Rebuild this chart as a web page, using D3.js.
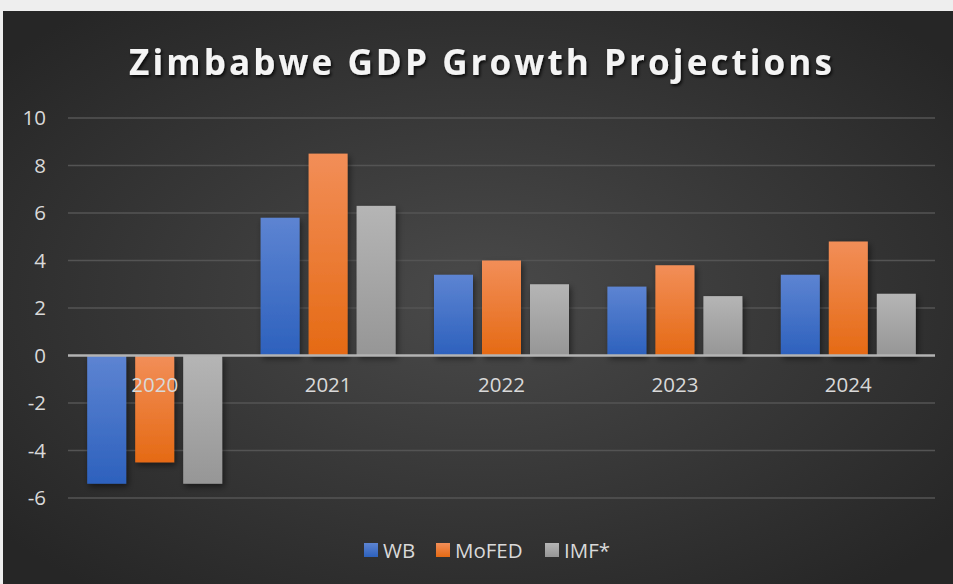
<!DOCTYPE html>
<html>
<head>
<meta charset="utf-8">
<script src="https://cdn.jsdelivr.net/npm/d3@7"></script>
<style>
  html, body { margin: 0; padding: 0; background: #eeeeee; }
  svg { display: block; }
</style>
</head>
<body>
<div id="chart"></div>
<script>
const years = ["2020", "2021", "2022", "2023", "2024"];
const series = ["WB", "MoFED", "IMF*"];
const wb = [-5.4, 5.8, 3.4, 2.9, 3.4];
const mofed = [-4.5, 8.5, 4.0, 3.8, 4.8];
const imf = [-5.4, 6.3, 3.0, 2.5, 2.6];
const yTicks = [-6, -4, -2, 0, 2, 4, 6, 8, 10];

const W = 953, H = 584;
const frame = {x: 3, y: 11};
const margin = {left: 68, right: 18, top: 118, bottom: 86};
const font = "Open Sans, sans-serif";
const labelSize = 20.5;

const svg = d3.select("#chart").append("svg")
  .attr("width", W).attr("height", H);

const defs = svg.append("defs");
const bg = defs.append("radialGradient").attr("id", "bg")
  .attr("cx", "50%").attr("cy", "50%").attr("r", "65%");
bg.append("stop").attr("offset", "0%").attr("stop-color", "#4a4a4a");
bg.append("stop").attr("offset", "100%").attr("stop-color", "#262626");

const grads = [
  ["#5d84d2", "#2d61bd"],
  ["#f28e58", "#e56a14"],
  ["#b5b5b5", "#969696"]
];
grads.forEach((g, i) => {
  const lg = defs.append("linearGradient").attr("id", "g" + i)
    .attr("x1", 0).attr("y1", 0).attr("x2", 0).attr("y2", 1);
  lg.append("stop").attr("offset", "0%").attr("stop-color", g[0]);
  lg.append("stop").attr("offset", "100%").attr("stop-color", g[1]);
});

const sh = defs.append("filter").attr("id", "shadow")
  .attr("x", "-30%").attr("y", "-10%").attr("width", "160%").attr("height", "130%");
sh.append("feDropShadow").attr("dx", 2).attr("dy", 3).attr("stdDeviation", 3)
  .attr("flood-color", "#000").attr("flood-opacity", 0.5);

const tsh = defs.append("filter").attr("id", "tshadow")
  .attr("x", "-10%").attr("y", "-30%").attr("width", "120%").attr("height", "160%");
tsh.append("feDropShadow").attr("dx", 1.5).attr("dy", 2).attr("stdDeviation", 1.5)
  .attr("flood-color", "#000").attr("flood-opacity", 0.8);

svg.append("rect")
  .attr("x", frame.x).attr("y", frame.y)
  .attr("width", W - frame.x).attr("height", H - frame.y)
  .attr("fill", "url(#bg)");

svg.append("text")
  .attr("x", 482).attr("y", 75)
  .attr("text-anchor", "middle")
  .attr("font-family", font)
  .attr("font-weight", "bold")
  .attr("font-size", 35)
  .attr("letter-spacing", 3.1)
  .attr("fill", "#f4f4f4")
  .attr("filter", "url(#tshadow)")
  .text("Zimbabwe GDP Growth Projections");

const x = d3.scaleBand().domain(years)
  .range([margin.left, W - margin.right]).paddingInner(0).paddingOuter(0);
const xs = d3.scaleBand().domain(series)
  .range([0, x.bandwidth()]).paddingInner(0.1875).paddingOuter(0.4);
const y = d3.scaleLinear().domain([-6, 10])
  .range([H - margin.bottom, margin.top]);

// gridlines
svg.append("g").selectAll("line")
  .data(yTicks.filter(d => d !== 0))
  .join("line")
  .attr("x1", margin.left).attr("x2", W - margin.right)
  .attr("y1", d => y(d)).attr("y2", d => y(d))
  .attr("stroke", "#545454").attr("stroke-width", 1.5);

// y axis labels
const yAxis = svg.append("g")
  .attr("transform", `translate(${margin.left - 22},0)`)
  .call(d3.axisLeft(y).tickValues(yTicks).tickSize(0).tickPadding(0).tickFormat(d => String(d)));
yAxis.select(".domain").remove();
yAxis.selectAll("text")
  .attr("font-family", font)
  .attr("font-size", labelSize)
  .attr("fill", "#d9d9d9");

const rows = years.map((yr, i) => ({year: yr, vals: [wb[i], mofed[i], imf[i]]}));

const groups = svg.append("g").selectAll("g")
  .data(rows).join("g")
  .attr("transform", d => `translate(${x(d.year)},0)`);

groups.selectAll("rect")
  .data(d => d.vals.map((v, j) => ({s: series[j], j, v})))
  .join("rect")
  .attr("x", d => xs(d.s))
  .attr("width", xs.bandwidth())
  .attr("y", d => y(Math.max(0, d.v)))
  .attr("height", d => Math.abs(y(d.v) - y(0)))
  .attr("fill", d => "url(#g" + d.j + ")")
  .attr("filter", "url(#shadow)");

// zero line
svg.append("line")
  .attr("x1", margin.left).attr("x2", W - margin.right)
  .attr("y1", y(0)).attr("y2", y(0))
  .attr("stroke", "#b3b3b3").attr("stroke-width", 2.5);

// category labels
const xAxis = svg.append("g")
  .attr("transform", `translate(0,${y(0)})`)
  .call(d3.axisBottom(x).tickSize(0).tickPadding(22));
xAxis.select(".domain").remove();
xAxis.selectAll("text")
  .attr("font-family", font)
  .attr("font-size", labelSize)
  .attr("fill", "#d9d9d9");

// legend
const legendX = [364, 436, 545];
const legend = svg.append("g").selectAll("g")
  .data(series).join("g")
  .attr("transform", (d, i) => `translate(${legendX[i]},543)`);
legend.append("rect")
  .attr("width", 14).attr("height", 14)
  .attr("fill", (d, i) => "url(#g" + i + ")");
legend.append("text")
  .attr("x", 19).attr("y", 14.5)
  .attr("font-family", font)
  .attr("font-size", labelSize)
  .attr("fill", "#d9d9d9")
  .text(d => d);
</script>
</body>
</html>
